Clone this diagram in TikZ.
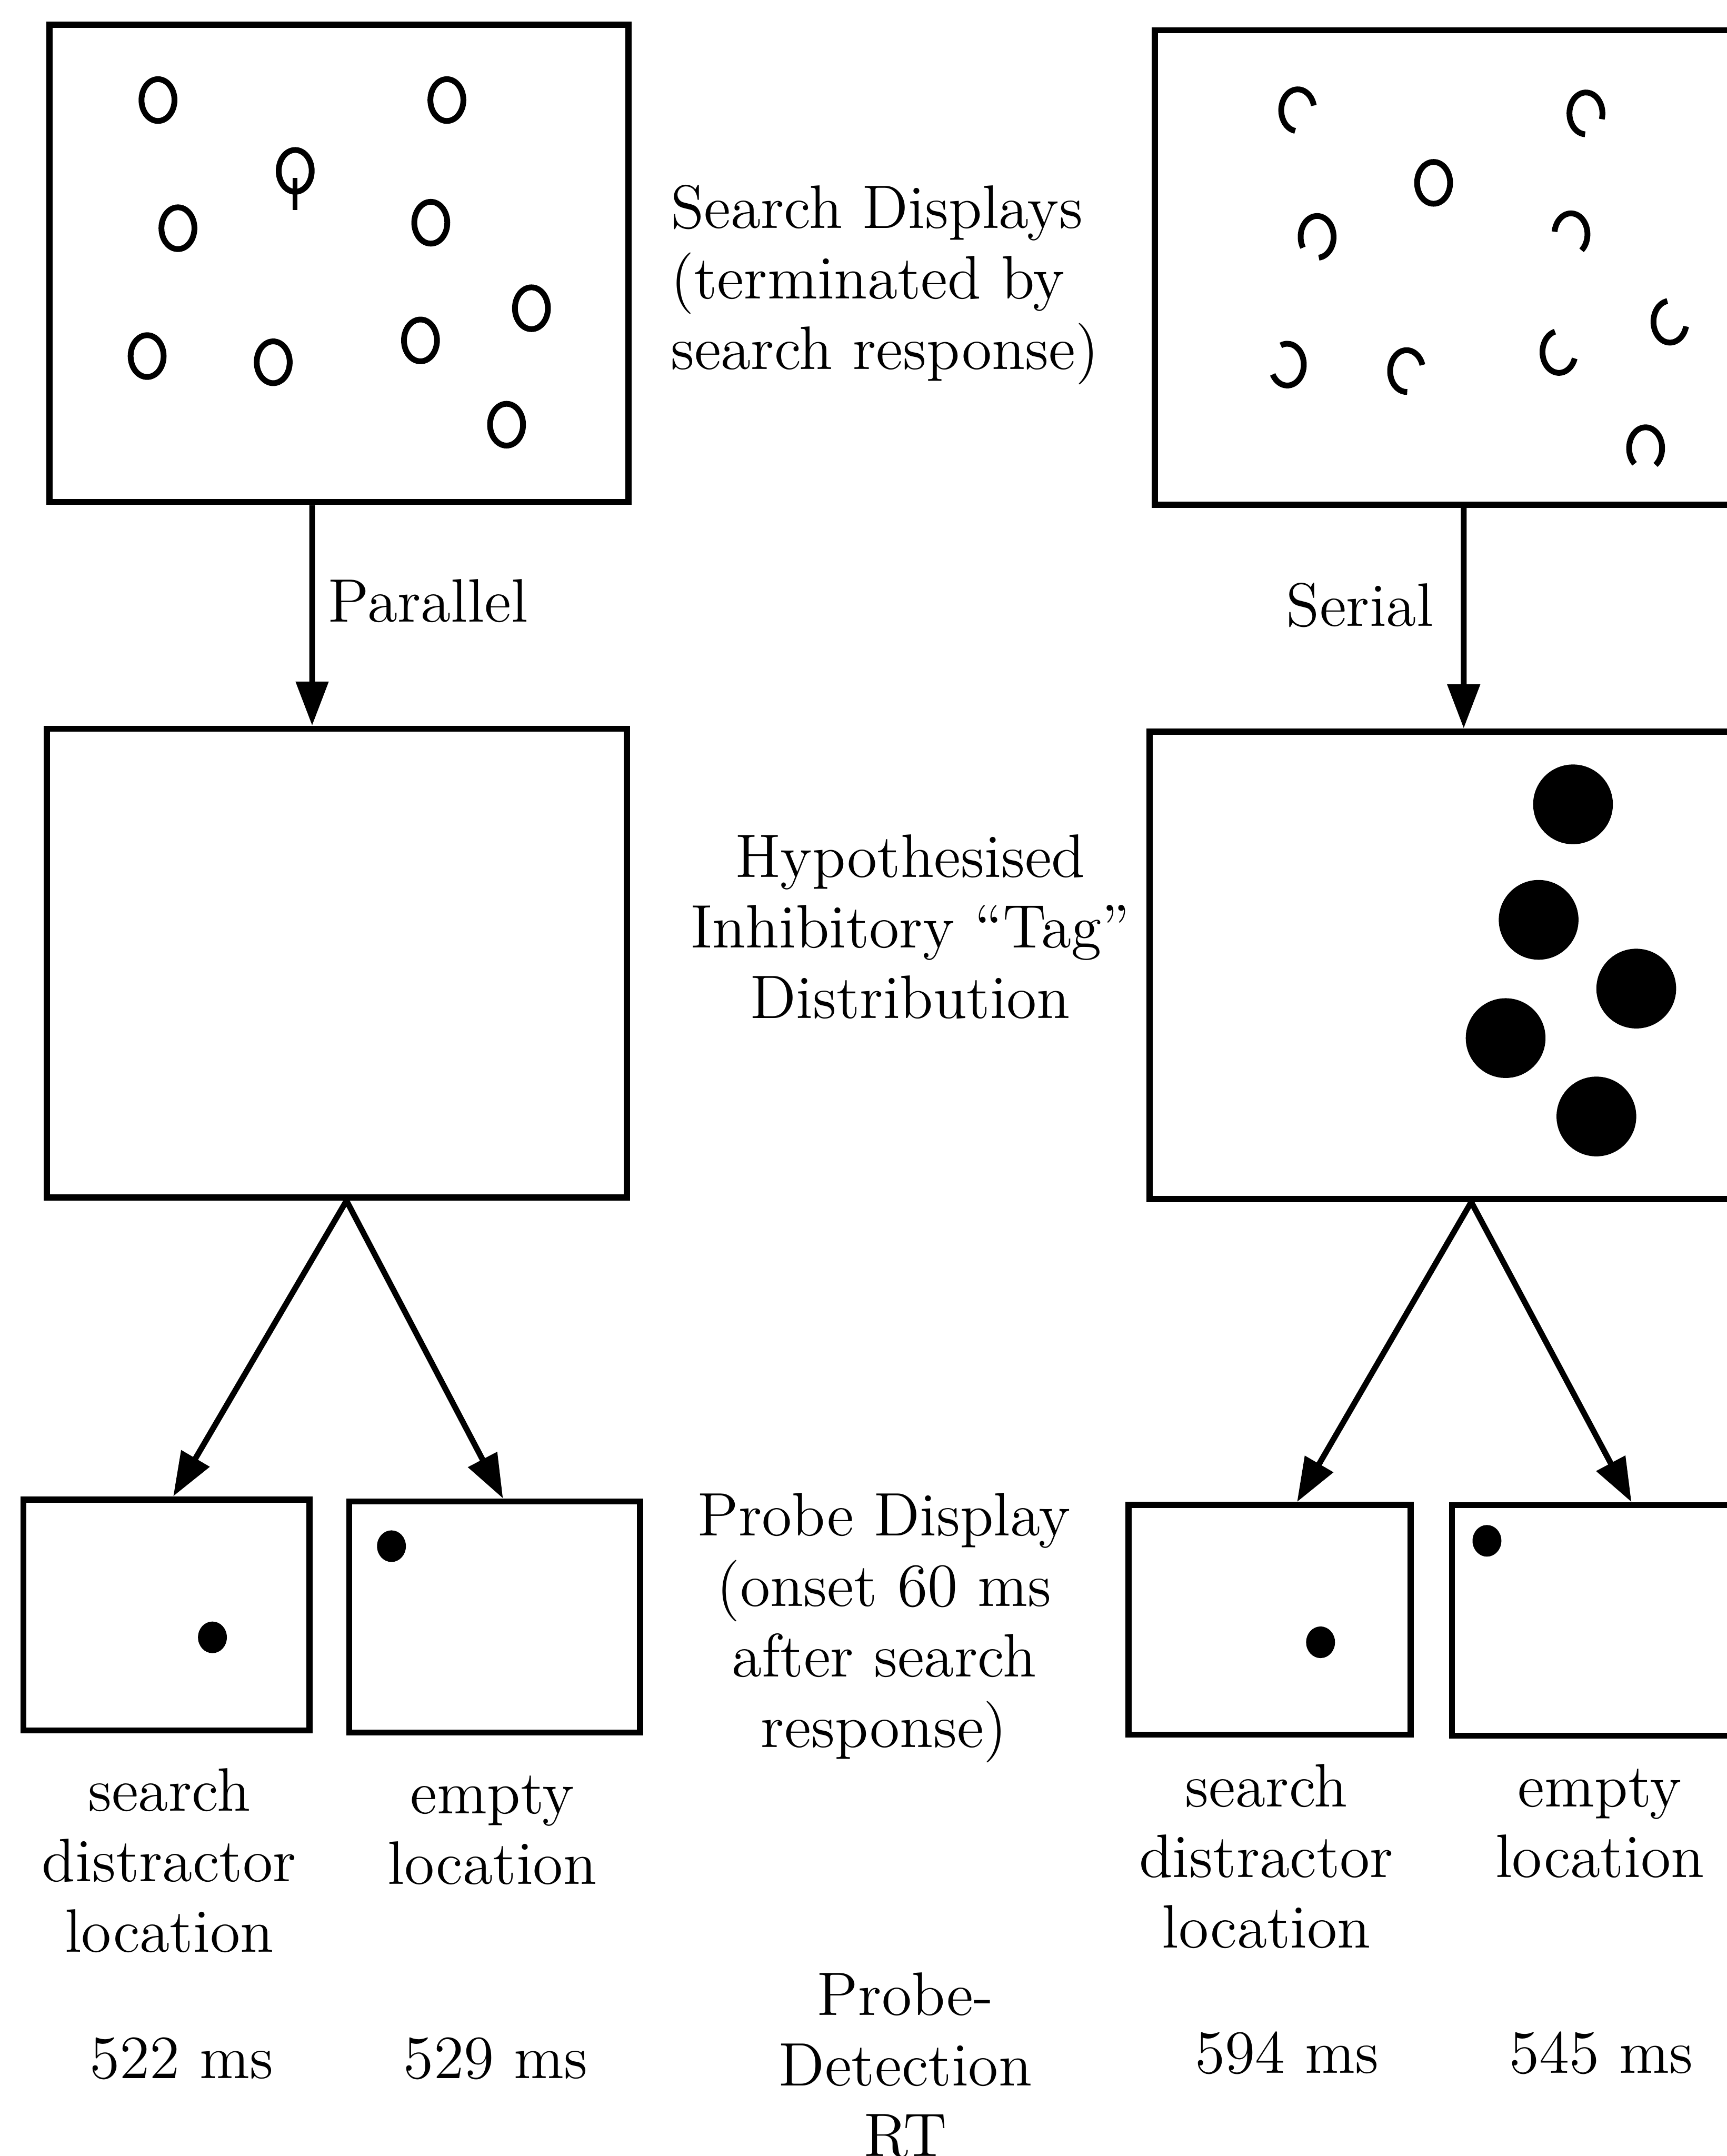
\documentclass[tikz,border=0pt]{standalone}
\usetikzlibrary{arrows.meta}

\tikzset{
  disp/.style={draw, line width=0.045cm, inner sep=0pt},
  ring/.style={line width=0.042cm},
  arr/.style={line width=0.042cm, -{Triangle[length=0.32cm, width=0.23cm]}},
  lbl/.style={font=\fontsize{12.7}{14.6}\selectfont, inner sep=0pt, align=center},
}
% ring with a gap: centre, start angle, end angle
\newcommand{\gapring}[3]{\draw[ring] #1 ++(#2:0.12 and 0.152) arc[start angle=#2, end angle=#3, x radius=0.12, y radius=0.152];}

\begin{document}
\begin{tikzpicture}

        \useasboundingbox (0,0) rectangle (12.56,15.68);
        \clip (0,0) rectangle (12.56,15.68);

        \begin{scope}[every node/.style={disp}]
          \node[minimum width=4.21cm, minimum height=3.47cm] (tl)  at (2.465,13.765) {};
          \node[minimum width=4.25cm, minimum height=3.45cm] (tr)  at (10.525,13.735) {};
          \node[minimum width=4.22cm, minimum height=3.41cm] (ml)  at (2.45,8.675) {};
          \node[minimum width=4.25cm, minimum height=3.40cm] (mr)  at (10.485,8.66) {};
          \node[minimum width=2.08cm, minimum height=1.68cm] (bl1) at (1.21,3.935) {};
          \node[minimum width=2.116cm, minimum height=1.68cm] (bl2) at (3.598,3.92) {};
          \node[minimum width=2.053cm, minimum height=1.67cm] (br1) at (9.233,3.899) {};
          \node[minimum width=2.10cm, minimum height=1.677cm] (br2) at (11.61,3.895) {};
        \end{scope}

        % parallel display
        \draw[ring] (1.149,14.952) ellipse [x radius=0.12, y radius=0.152];
        \draw[ring] (3.25,14.952)  ellipse [x radius=0.12, y radius=0.152];
        \draw[ring] (2.147,14.437) ellipse [x radius=0.12, y radius=0.152];
        \draw[line width=0.034cm] (2.147,14.384) -- (2.147,14.152);
        \draw[ring] (1.294,14.02)  ellipse [x radius=0.12, y radius=0.152];
        \draw[ring] (3.133,14.06)  ellipse [x radius=0.12, y radius=0.152];
        \draw[ring] (3.865,13.438) ellipse [x radius=0.12, y radius=0.152];
        \draw[ring] (1.07,13.09)   ellipse [x radius=0.12, y radius=0.152];
        \draw[ring] (1.987,13.045) ellipse [x radius=0.12, y radius=0.152];
        \draw[ring] (3.058,13.204) ellipse [x radius=0.12, y radius=0.152];
        \draw[ring] (3.684,12.591) ellipse [x radius=0.12, y radius=0.152];

        % serial display
        \gapring{(9.438,14.878)}{13}{261}
        \gapring{(11.534,14.855)}{-16}{267}
        \draw[ring] (10.426,14.35) ellipse [x radius=0.12, y radius=0.152];
        \gapring{(9.579,13.957)}{-84}{211}
        \gapring{(11.425,13.976)}{-50}{173}
        \gapring{(12.145,13.34)}{99}{347}
        \gapring{(9.362,13.028)}{208}{473}
        \gapring{(10.23,12.981)}{17}{272}
        \gapring{(11.338,13.12)}{104}{342}
        \gapring{(11.968,12.42)}{-53}{228}

        % tags
        \fill (11.44,9.83) circle [radius=0.29];
        \fill (11.19,8.99) circle [radius=0.29];
        \fill (11.90,8.49) circle [radius=0.29];
        \fill (10.95,8.13) circle [radius=0.29];
        \fill (11.61,7.56) circle [radius=0.29];

        % probes
        \fill (1.545,3.772)  ellipse [x radius=0.105, y radius=0.115];
        \fill (2.847,4.435)  ellipse [x radius=0.105, y radius=0.115];
        \fill (9.604,3.736)  ellipse [x radius=0.105, y radius=0.115];
        \fill (10.814,4.474) ellipse [x radius=0.105, y radius=0.115];

        \begin{scope}[every edge/.style={draw, arr}]
          \path ([xshift=-0.195cm]tl.south) edge ([xshift=-0.18cm]ml.north);
          \path ([xshift=0.12cm]tr.south)   edge ([xshift=0.16cm]mr.north);
          \path ([xshift=0.07cm]ml.south)   edge ([xshift=0.05cm]bl1.north);
          \path ([xshift=0.07cm]ml.south)   edge ([xshift=0.06cm]bl2.north);
          \path ([xshift=0.215cm]mr.south)  edge ([xshift=0.2cm]br1.north);
          \path ([xshift=0.215cm]mr.south)  edge ([xshift=0.255cm]br2.north);
        \end{scope}

        \begin{scope}[every node/.style={lbl}]
          \node[anchor=west, align=left] (searchlbl) at (4.87,13.61)
            {Search Displays\\(terminated by\\search response)};
          \node[anchor=west] (parlbl) at (2.38,11.31) {Parallel};
          \node[anchor=east] (serlbl) at (10.43,11.28) {Serial};
          \node (hyplbl) at (6.62,8.94) {Hypothesised\\Inhibitory “Tag”\\Distribution};
          \node (probelbl) at (6.43,3.84) {Probe Display\\(onset 60 ms\\after search\\response)};
          \node (loc1) at (1.23,2.15)  {search\\distractor\\location};
          \node (loc2) at (3.58,2.37)  {empty\\location};
          \node (loc3) at (9.21,2.18)  {search\\distractor\\location};
          \node (loc4) at (11.635,2.42) {empty\\location};
          \node (rt1) at (1.32,0.71)   {522 ms};
          \node (rt2) at (3.605,0.71)  {529 ms};
          \node (rt3) at (9.36,0.75)   {594 ms};
          \node (rt4) at (11.645,0.75) {545 ms};
          \node (rtlbl) at (6.585,0.66) {Probe-\\Detection\\RT};
        \end{scope}

      \end{tikzpicture}
\end{document}
